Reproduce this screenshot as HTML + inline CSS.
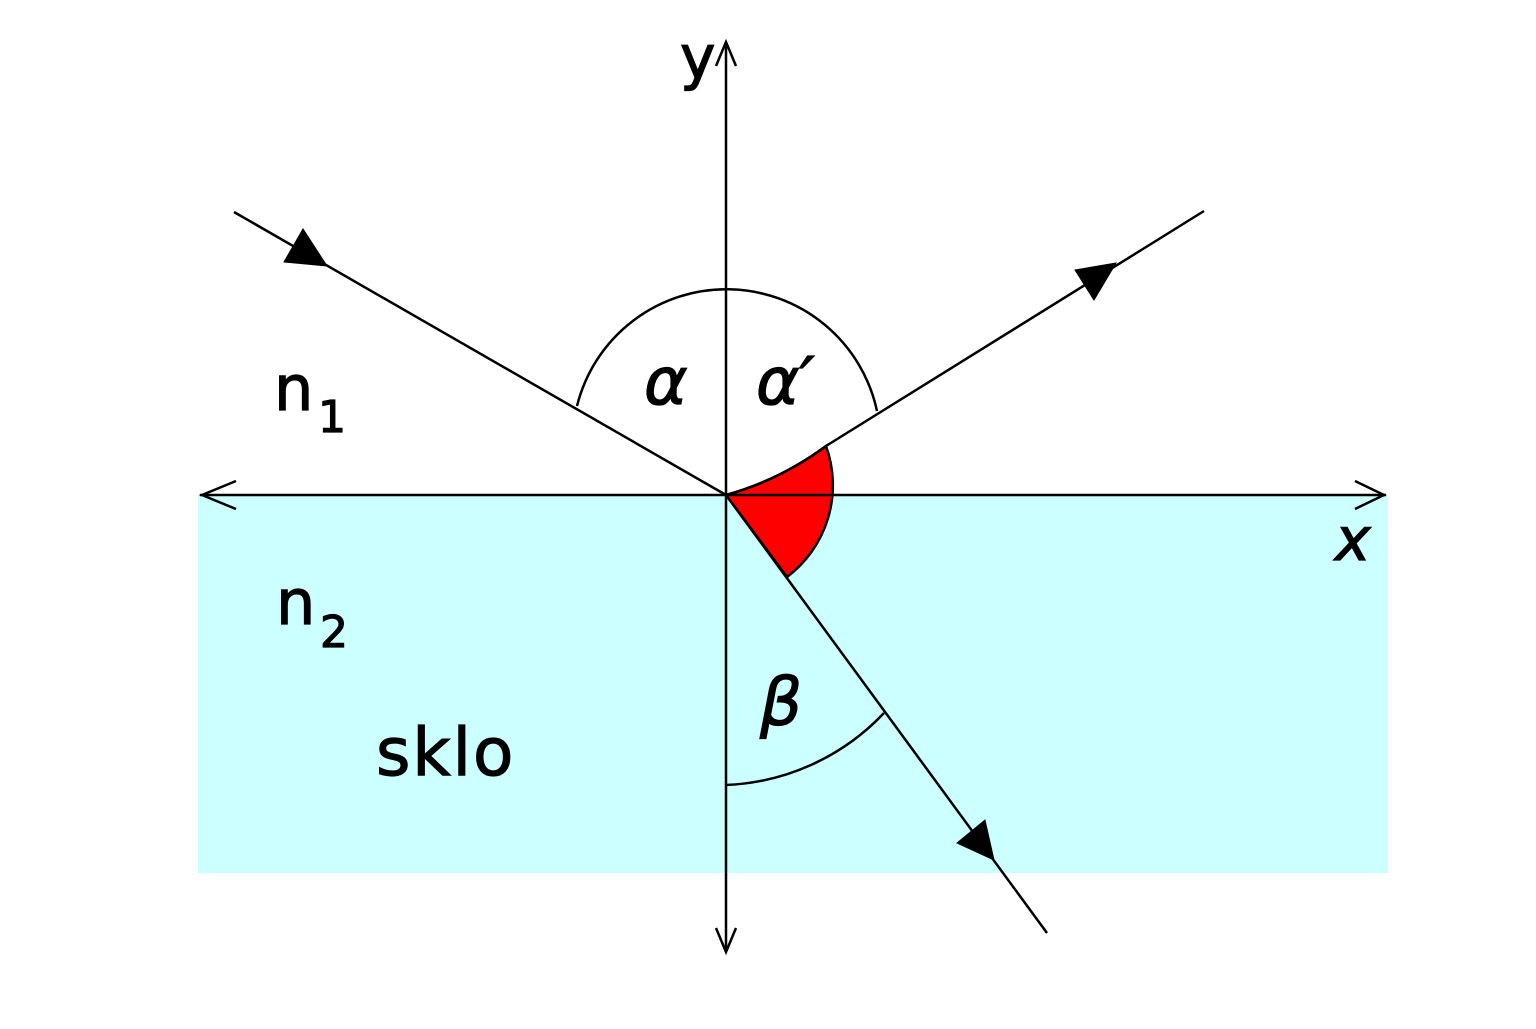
<!DOCTYPE html>
<html><head><style>html,body{margin:0;padding:0;background:#fff}</style></head><body>
<svg width="1536" height="1024" viewBox="0 0 1536 1024" xmlns="http://www.w3.org/2000/svg" font-family="DejaVu Sans, Liberation Sans, sans-serif">
<rect x="198" y="495" width="1190" height="378" fill="#ccffff"/>
<path d="M726,495 Q780,480 826,446 A115,115 0 0 1 787,577 Z" fill="#ff0000" stroke="#000" stroke-width="2.5"/>
<g stroke="#000" stroke-width="2.5" fill="none">
<line x1="200" y1="495" x2="1386" y2="495"/>
<polyline points="236,481 202,495 236,509"/>
<polyline points="1355,481 1384,495 1355,509"/>
<line x1="726" y1="42" x2="726" y2="952"/>
<polyline points="716,66 726,42 736,66"/>
<polyline points="716,928 726,952 736,928"/>
<line x1="234" y1="212" x2="726" y2="495"/>
<path d="M726,495 Q780,480 826,446 L1204,211"/>
<line x1="726" y1="495" x2="1047" y2="933"/>
<path d="M577,406 A154,154 0 0 1 877,411"/>
<path d="M726,785 A230,230 0 0 0 884,713"/>
</g>
<g fill="#000" stroke="#000" stroke-width="1">
<polygon points="327,266 284,262 303,229"/>
<polygon points="1116,263 1075,270 1094,300"/>
<polygon points="994,860 957,843 985,820"/>
</g>
<g font-size="62" fill="#000" stroke="#000" stroke-width="1.2">
<text x="680" y="78" font-size="60">y</text>
<text x="1335" y="560" font-style="italic" font-size="60">x</text>
<text x="274" y="410">n</text><text x="318" y="432" font-size="44">1</text>
<text x="276" y="624">n</text><text x="320" y="647" font-size="44">2</text>
<text x="376" y="775" font-size="66" letter-spacing="2">sklo</text>
<text x="644" y="404" font-style="italic" font-size="66">α</text>
<text x="756" y="404" font-style="italic" font-size="66">α′</text>
<text x="760" y="725" font-style="italic" font-size="66">β</text>
</g>
</svg>
</body></html>
